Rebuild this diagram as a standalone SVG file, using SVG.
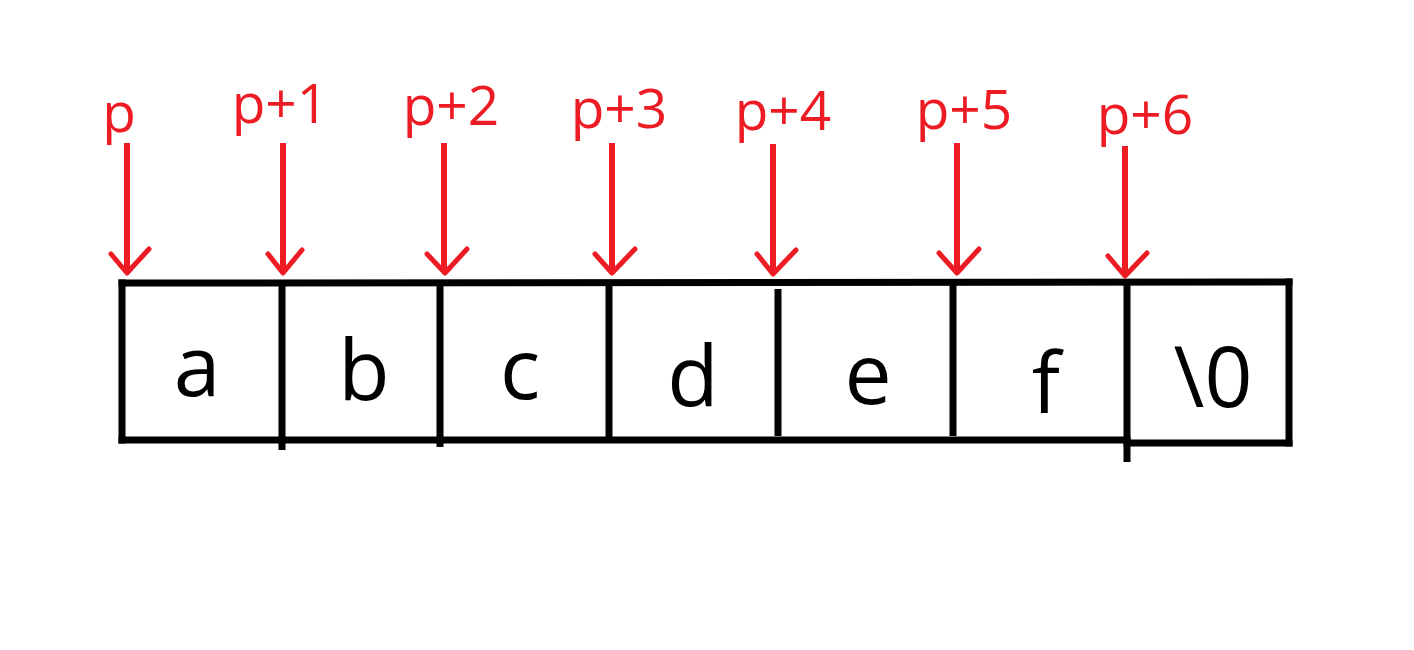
<svg xmlns="http://www.w3.org/2000/svg" width="1414" height="650" viewBox="0 0 1414 650">
<style>
.bg{fill:#ffffff}
.edge{stroke:#000000;stroke-width:7;fill:none;stroke-linecap:square}
.cell{font-family:"Open Sans","Noto Sans",sans-serif;font-size:84px;fill:#000000;text-anchor:middle}
.lbl{font-family:"Open Sans","Noto Sans",sans-serif;font-size:55px;fill:#ed1c24;text-anchor:middle}
.arr{stroke:#ed1c24;stroke-width:6;fill:none;stroke-linecap:butt}
.head{stroke:#ed1c24;stroke-width:5;fill:none;stroke-linecap:round;stroke-linejoin:round}
</style>
<rect class="bg" x="0" y="0" width="1414" height="650"/>
<g id="array-frame">
<line class="edge" x1="122" y1="283" x2="1289" y2="282"/>
<line class="edge" x1="122" y1="440" x2="1127" y2="440"/>
<line class="edge" x1="1127" y1="443" x2="1289" y2="443"/>
<line class="edge" x1="122" y1="283" x2="122" y2="440"/>
<line class="edge" x1="1289" y1="282" x2="1289" y2="443"/>
</g>
<g id="dividers">
<line class="edge" x1="282" y1="283" x2="282" y2="450" style="stroke-linecap:butt"/>
<line class="edge" x1="440" y1="283" x2="440" y2="447" style="stroke-linecap:butt"/>
<line class="edge" x1="609" y1="283" x2="609" y2="440" style="stroke-linecap:butt"/>
<line class="edge" x1="778" y1="289" x2="778" y2="436" style="stroke-linecap:butt"/>
<line class="edge" x1="953" y1="283" x2="953" y2="436" style="stroke-linecap:butt"/>
<line class="edge" x1="1127" y1="279" x2="1127" y2="462" style="stroke-linecap:butt"/>
</g>
<g id="cell-a"><text class="cell" x="197" y="396">a</text></g>
<g id="cell-b"><text class="cell" x="364" y="400">b</text></g>
<g id="cell-c"><text class="cell" x="520" y="399">c</text></g>
<g id="cell-d"><text class="cell" x="693" y="406">d</text></g>
<g id="cell-e"><text class="cell" x="868" y="404">e</text></g>
<g id="cell-f"><text class="cell" x="1046" y="413">f</text></g>
<g id="cell-nul"><text class="cell" x="1213" y="407">\0</text></g>
<g id="label-p"><text class="lbl" x="119" y="132">p</text></g>
<g id="label-p1"><text class="lbl" x="280" y="123">p+1</text></g>
<g id="label-p2"><text class="lbl" x="451" y="125">p+2</text></g>
<g id="label-p3"><text class="lbl" x="619" y="128">p+3</text></g>
<g id="label-p4"><text class="lbl" x="783" y="130">p+4</text></g>
<g id="label-p5"><text class="lbl" x="964" y="129">p+5</text></g>
<g id="label-p6"><text class="lbl" x="1145" y="134">p+6</text></g>
<g id="connectors">
<line class="arr" x1="127" y1="143" x2="127" y2="272"/>
<polyline class="head" points="111,254 127,273 149,249"/>
<line class="arr" x1="283" y1="143" x2="283" y2="272"/>
<polyline class="head" points="268,254 283,273 302,250"/>
<line class="arr" x1="444" y1="143" x2="444" y2="272"/>
<polyline class="head" points="427,254 445,273 467,249"/>
<line class="arr" x1="612" y1="143" x2="612" y2="272"/>
<polyline class="head" points="595,254 612,273 635,249"/>
<line class="arr" x1="773" y1="144" x2="773" y2="273"/>
<polyline class="head" points="757,254 773,274 796,250"/>
<line class="arr" x1="957" y1="143" x2="957" y2="272"/>
<polyline class="head" points="939,253 957,273 979,249"/>
<line class="arr" x1="1125" y1="146" x2="1125" y2="275"/>
<polyline class="head" points="1108,256 1125,276 1147,253"/>
</g>
</svg>
